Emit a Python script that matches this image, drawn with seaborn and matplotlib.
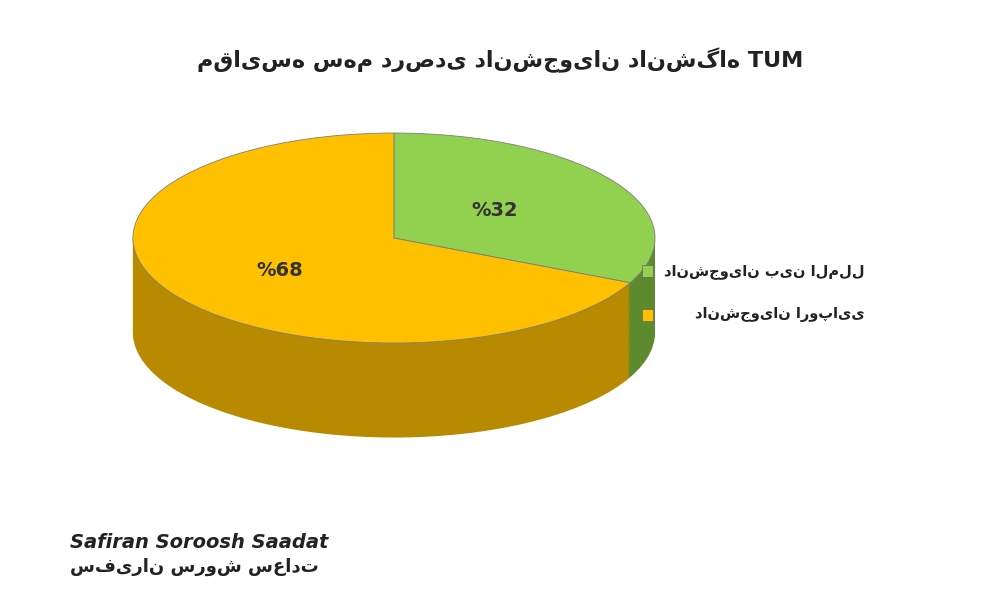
import matplotlib
matplotlib.use("Agg")
import matplotlib.pyplot as plt
import seaborn as sns

categories = ["دانشجویان بین الملل", "دانشجویان اروپایی"]
shares = [32, 68]
labels = ["%32", "%68"]
title = "مقایسه سهم درصدی دانشجویان دانشگاه TUM"

top_colors = ["#92d050", "#ffc000"]
side_colors = ["#5e8a2e", "#b88a00"]

sns.set_theme(style="white")
plt.rcParams['font.family'] = ['DejaVu Sans']

fig = plt.figure(figsize=(10, 6), dpi=100)
ax = fig.add_axes([0.1, 0.2333, 0.59, 0.5667])

# side of the 3d pie: stack of pies shifted down
depth = 0.9
steps = 40
for i in range(steps, 0, -1):
    d = depth * i / steps
    ax.pie(shares, colors=side_colors, startangle=90, counterclock=False,
           center=(0, -d), radius=1, frame=True,
           wedgeprops=dict(linewidth=0))
# top face
ax.pie(shares, colors=top_colors, startangle=90, counterclock=False,
       center=(0, 0), radius=1, frame=True,
       wedgeprops=dict(linewidth=0.6, edgecolor="#7f7f7f"))

ax.set_aspect('auto')
ax.set_xlim(-1.126, 1.134)
ax.set_ylim(-2.114, 1.124)
ax.axis('off')

fig.text(0.495, 0.65, labels[0], ha='center', va='center', fontsize=14, fontweight='bold', color='#333333')
fig.text(0.28, 0.55, labels[1], ha='center', va='center', fontsize=14, fontweight='bold', color='#333333')

fig.text(0.5, 0.9, title, ha='center', va='center', fontsize=16, fontweight='bold', color='#222222')

# legend
texts = []
for k, name in enumerate(categories):
    y = 0.548 - k * 0.073
    texts.append(fig.text(0.865, y, name, ha='right', va='center', fontsize=10.5,
                          fontweight='bold', color='#222222'))
fig.canvas.draw()
x0 = min(t.get_window_extent().transformed(fig.transFigure.inverted()).x0 for t in texts)
for k, c in enumerate(top_colors):
    y = 0.548 - k * 0.073
    fig.add_artist(plt.Rectangle((x0 - 0.022, y - 0.01), 0.011, 0.02, transform=fig.transFigure,
                                 facecolor=c, edgecolor='#666666', linewidth=0.5, zorder=10))

# logo text
fig.text(0.07, 0.095, "Safiran Soroosh Saadat", ha='left', va='center', fontsize=14,
         fontweight='bold', fontstyle='italic', color='#222222')
fig.text(0.07, 0.055, "سفیران سروش سعادت", ha='left', va='center', fontsize=13,
         fontweight='bold', color='#222222')

fig.savefig("out.png", dpi=100)
